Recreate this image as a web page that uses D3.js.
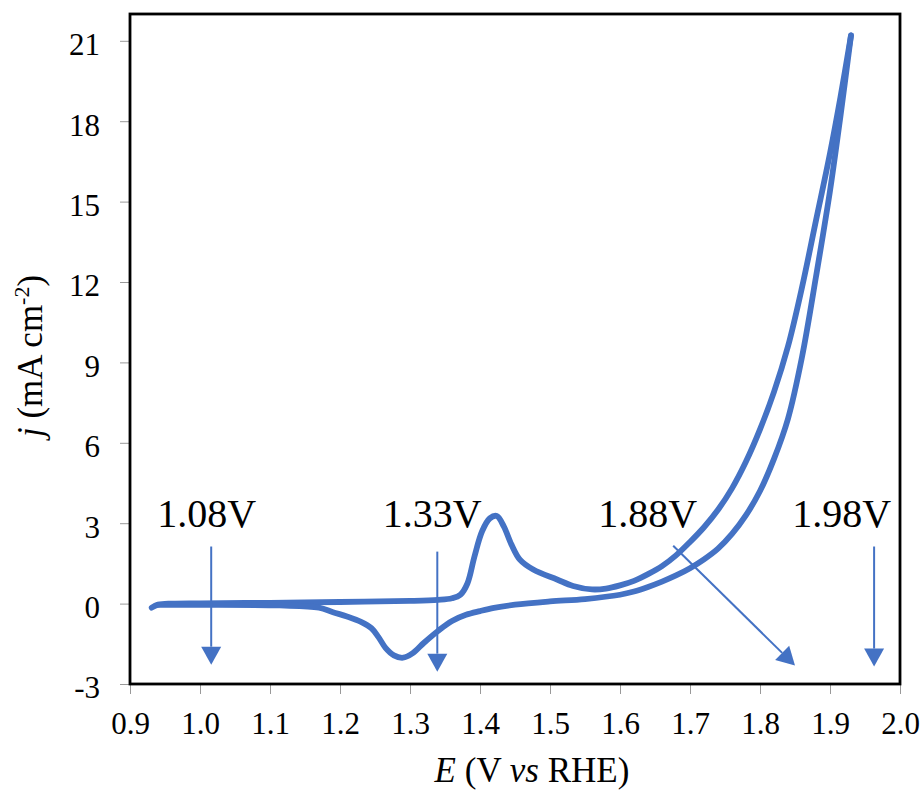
<!DOCTYPE html>
<meta charset="utf-8">
<head>
    <title>CV curve</title>
    <script type="text/javascript" src="https://cdn.jsdelivr.net/npm/d3@7"></script>
    <style>
        body { margin: 0; background: #fff; }
        text { font-family: "Liberation Serif", "Times New Roman", serif; fill: #000; }
        .tick line { stroke: #999; stroke-width: 1; }
    </style>
</head>
<body>
<div id="chart"></div>
<script>
    // forward (anodic) scan, upper branch
    var fwdE = [0.931,0.94,0.96,1.0,1.1,1.2,1.3,1.34,1.36,1.372,1.382,1.392,1.403,1.414,1.424,1.434,1.445,1.457,1.476,1.51,1.533,1.56,1.58,1.6,1.62,1.64,1.66,1.68,1.70,1.72,1.74,1.76,1.78,1.80,1.82,1.84,1.86,1.88,1.90,1.915,1.93]
    var fwdJ = [-0.15,-0.04,0,0.01,0.03,0.06,0.1,0.14,0.2,0.33,0.75,1.75,2.7,3.18,3.27,2.88,2.2,1.64,1.27,0.9,0.66,0.53,0.56,0.68,0.85,1.1,1.4,1.8,2.3,2.85,3.5,4.3,5.3,6.5,7.9,9.6,11.8,14.3,16.8,18.9,21.2]
    // return (cathodic) scan, lower branch (listed by rising E)
    var backE = [0.94,1.0,1.114,1.17,1.19,1.21,1.23,1.245,1.255,1.265,1.277,1.29,1.304,1.32,1.34,1.36,1.38,1.4,1.42,1.45,1.5,1.55,1.6,1.62,1.64,1.66,1.68,1.70,1.72,1.74,1.76,1.78,1.80,1.82,1.84,1.86,1.88,1.90,1.915,1.93]
    var backJ = [-0.05,-0.05,-0.07,-0.15,-0.32,-0.48,-0.68,-0.92,-1.25,-1.65,-1.93,-2.02,-1.85,-1.46,-1.02,-0.65,-0.42,-0.28,-0.16,-0.04,0.08,0.17,0.33,0.45,0.62,0.82,1.05,1.32,1.65,2.05,2.6,3.3,4.2,5.4,6.9,9.2,12.2,15.4,18.2,21.2]

    var xTicks = [0.9,1.0,1.1,1.2,1.3,1.4,1.5,1.6,1.7,1.8,1.9,2.0]
    var yTicks = [-3,0,3,6,9,12,15,18,21]

    // annotations: label, label start, arrow start and tip (data units)
    var labels = ["1.08V","1.33V","1.88V","1.98V"]
    var labelE = [0.939,1.261,1.569,1.846]
    var labelJ = [2.87,2.87,2.87,2.87]
    var arrowE0 = [1.016,1.339,1.676,1.963]
    var arrowJ0 = [2.13,1.94,2.16,2.13]
    var arrowE1 = [1.016,1.339,1.85,1.963]
    var arrowJ1 = [-2.28,-2.54,-2.31,-2.35]

    var blue = "#4472C4"
    var width = 922, height = 793
    var margin = {top: 14, right: 22, bottom: 109, left: 130}

    var svg = d3.select("#chart").append("svg")
      .attr("width", width)
      .attr("height", height)

    var x = d3.scaleLinear().domain([0.9, 2.0]).range([margin.left, width - margin.right])
    var y = d3.scaleLinear().domain([-3, 22]).range([height - margin.bottom, margin.top])

    // axes
    var xAxis = svg.append("g")
      .attr("transform", "translate(0," + (height - margin.bottom) + ")")
      .call(d3.axisBottom(x).tickValues(xTicks).tickFormat(d3.format(".1f")).tickSize(10).tickPadding(18))
    xAxis.select(".domain").remove()
    xAxis.selectAll("text").attr("font-size", "31px")

    var yAxis = svg.append("g")
      .attr("transform", "translate(" + margin.left + ",0)")
      .call(d3.axisLeft(y).tickValues(yTicks).tickFormat(function(d){ return String(d) }).tickSize(10).tickPadding(20))
    yAxis.select(".domain").remove()
    yAxis.selectAll("text").attr("font-size", "31px").attr("dy", "0.45em")

    // frame
    svg.append("rect")
      .attr("x", x(0.9))
      .attr("y", y(22))
      .attr("width", x(2.0) - x(0.9))
      .attr("height", y(-3) - y(22))
      .attr("fill", "none")
      .attr("stroke", "#000")
      .attr("stroke-width", 2.8)

    // curve
    var line = d3.line()
      .x(function(d){ return x(d[0]) })
      .y(function(d){ return y(d[1]) })
      .curve(d3.curveCatmullRom.alpha(0.5))

    var branches = [d3.zip(fwdE, fwdJ), d3.zip(backE, backJ)]
    svg.selectAll(".cv")
      .data(branches)
      .enter()
        .append("path")
        .attr("class", "cv")
        .attr("d", line)
        .attr("fill", "none")
        .attr("stroke", blue)
        .attr("stroke-width", 5.8)
        .attr("stroke-linecap", "round")
        .attr("stroke-linejoin", "round")

    // arrows
    var headLen = 18, headHalf = 10
    labels.forEach(function(lab, i){
      var x0 = x(arrowE0[i]), y0 = y(arrowJ0[i])
      var x1 = x(arrowE1[i]), y1 = y(arrowJ1[i])
      var a = Math.atan2(y1 - y0, x1 - x0)
      var bx = x1 - headLen * Math.cos(a), by = y1 - headLen * Math.sin(a)
      svg.append("line")
        .attr("x1", x0).attr("y1", y0)
        .attr("x2", bx).attr("y2", by)
        .attr("stroke", blue)
        .attr("stroke-width", 2)
      svg.append("path")
        .attr("d", "M" + x1 + "," + y1 +
                   "L" + (bx + headHalf * Math.sin(a)) + "," + (by - headHalf * Math.cos(a)) +
                   "L" + (bx - headHalf * Math.sin(a)) + "," + (by + headHalf * Math.cos(a)) + "Z")
        .attr("fill", blue)
      svg.append("text")
        .attr("x", x(labelE[i]))
        .attr("y", y(labelJ[i]))
        .attr("font-size", "40px")
        .text(lab)
    })

    // axis titles
    var xt = svg.append("text")
      .attr("x", 532)
      .attr("y", 782)
      .attr("text-anchor", "middle")
      .attr("font-size", "35px")
    xt.append("tspan").attr("font-style", "italic").text("E")
    xt.append("tspan").text(" (V ")
    xt.append("tspan").attr("font-style", "italic").text("vs")
    xt.append("tspan").text(" RHE)")

    var yt = svg.append("text")
      .attr("transform", "translate(42,356) rotate(-90)")
      .attr("text-anchor", "middle")
      .attr("font-size", "35px")
    yt.append("tspan").attr("font-style", "italic").text("j")
    yt.append("tspan").text(" (mA cm")
    yt.append("tspan").attr("font-size", "22px").attr("dy", "-13").text("-2")
    yt.append("tspan").attr("dy", "13").text(")")
</script>
</body>
</html>
